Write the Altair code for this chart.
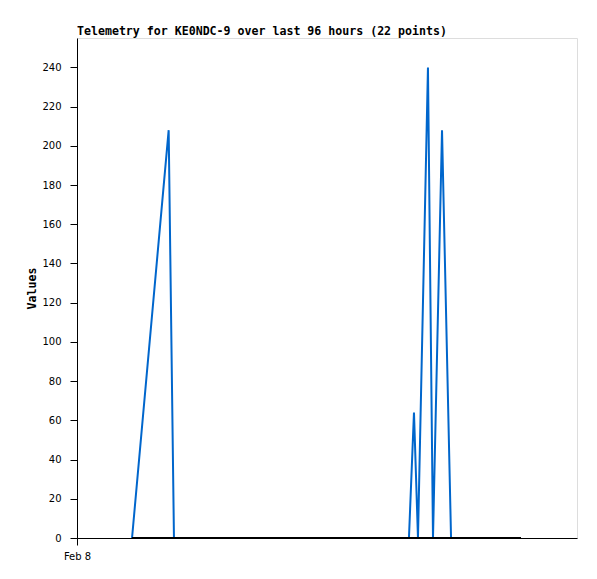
import altair as alt
import pandas as pd

# Blue series (telemetry values)
blue_times = [
    "2024-02-08T10:34:00", "2024-02-08T17:36:00", "2024-02-08T18:37:00",
    "2024-02-10T15:44:00", "2024-02-10T16:42:00", "2024-02-10T17:28:00",
    "2024-02-10T19:23:00", "2024-02-10T20:21:00", "2024-02-10T22:05:00",
    "2024-02-10T23:49:00",
]
blue_values = [0, 208, 0, 0, 64, 0, 240, 0, 208, 0]

# Black series (zero baseline channel)
black_times = ["2024-02-08T10:34:00", "2024-02-11T13:15:00"]
black_values = [0, 0]

title_text = "Telemetry for KE0NDC-9 over last 96 hours (22 points)"

df = pd.DataFrame(
    {
        "time": blue_times + black_times,
        "value": blue_values + black_values,
        "series": ["a"] * len(blue_times) + ["b"] * len(black_times),
    }
)

x_enc = alt.X(
    "time:T",
    scale=alt.Scale(
        domain=[alt.DateTime(year=2024, month=2, date=8),
                alt.DateTime(year=2024, month=2, date=12)]
    ),
    axis=alt.Axis(
        values=[alt.DateTime(year=2024, month=2, date=8)],
        format="%b %-d",
        title=None,
        grid=False,
        tickSize=7,
        labelPadding=6,
        labelFlush=False,
        labelAlign="center",
        labelFont="DejaVu Sans",
        labelFontSize=10,
        labelColor="black",
        tickColor="black",
        domainColor="black",
    ),
)
y_enc = alt.Y(
    "value:Q",
    scale=alt.Scale(domain=[0, 255], nice=False),
    axis=alt.Axis(
        values=list(range(0, 241, 20)),
        title="Values",
        grid=False,
        tickSize=7,
        labelPadding=9,
        labelFont="DejaVu Sans",
        labelFontSize=10,
        labelColor="black",
        tickColor="black",
        domainColor="black",
        titleFont="DejaVu Sans Mono",
        titleFontSize=11.6,
        titleFontWeight="bold",
        titleColor="black",
        titleX=-45,
        titleY=250,
        titleAlign="center",
        titleBaseline="middle",
        titleAngle=-90,
    ),
)

blue = (
    alt.Chart(df)
    .transform_filter(alt.datum.series == "a")
    .mark_line(color="#0066cc", strokeWidth=2)
    .encode(x=x_enc, y=y_enc)
)
black = (
    alt.Chart(df)
    .transform_filter(alt.datum.series == "b")
    .mark_line(color="black", strokeWidth=2)
    .encode(x=x_enc, y=y_enc)
)

chart = (
    alt.layer(blue, black)
    .properties(
        width=500,
        height=500,
        title=alt.TitleParams(
            text=title_text,
            anchor="start",
            frame="group",
            font="DejaVu Sans Mono",
            fontSize=11.6,
            fontWeight="bold",
            color="black",
            offset=0,
        ),
        autosize=alt.AutoSizeParams(type="none"),
        padding={"left": 69, "top": 30, "right": 10, "bottom": 30},
    )
    .configure_view(stroke="black", strokeWidth=1)
    .configure(background="white")
)

chart.save("out.html", embed_options={"renderer": "svg", "actions": False})
